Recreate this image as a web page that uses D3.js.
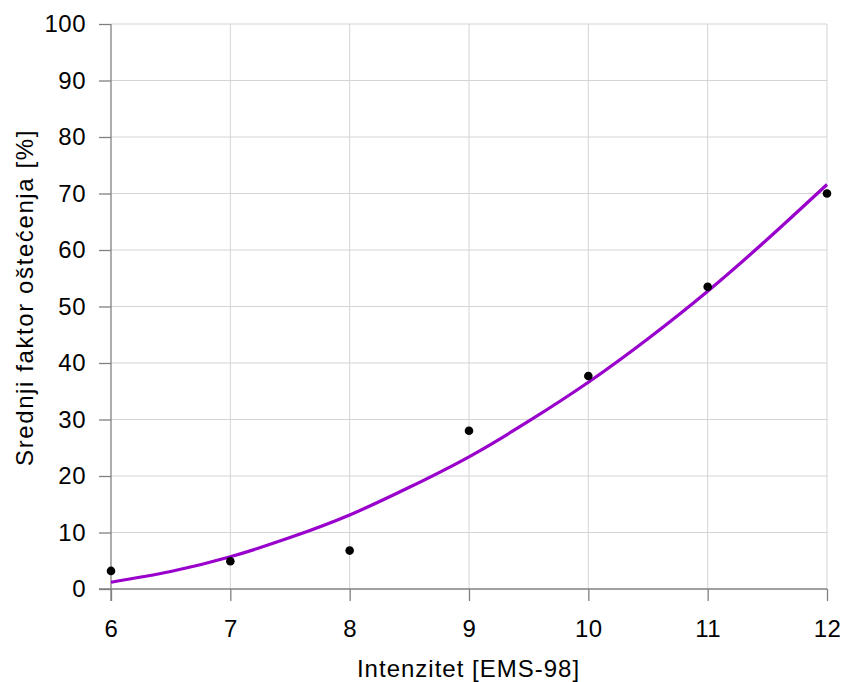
<!DOCTYPE html>
<html><head><meta charset="utf-8">
<script src="https://cdn.jsdelivr.net/npm/d3@7"></script>
<style>body{margin:0;background:#fff}svg{display:block}</style>
</head><body>
<svg id="c" width="843" height="682"></svg>
<script>
const pointX = [6, 7, 8, 9, 10, 11, 12];
const pointY = [3.2, 4.9, 6.8, 28.0, 37.7, 53.5, 70.0];
const curveX = [6, 6.5, 7, 7.5, 8, 8.5, 9, 9.5, 10, 10.5, 11, 11.5, 12];
const curveY = [1.2, 3.1, 5.7, 9.1, 13.1, 18.0, 23.4, 29.7, 36.6, 44.3, 52.7, 61.9, 71.6];
const xTicks = [6, 7, 8, 9, 10, 11, 12];
const yTicks = [0, 10, 20, 30, 40, 50, 60, 70, 80, 90, 100];
const xTitle = "Intenzitet [EMS-98]";
const yTitle = "Srednji faktor oštećenja [%]";

const svg = d3.select("#c");
const L = 111, R = 827, T = 24, B = 589;
const x = d3.scaleLinear().domain([6, 12]).range([L, R]);
const y = d3.scaleLinear().domain([0, 100]).range([B, T]);
const font = "'Liberation Sans', Arial, sans-serif";

// grid
svg.append("g").selectAll("line").data(xTicks.slice(1)).join("line")
  .attr("x1", d => x(d)).attr("x2", d => x(d)).attr("y1", T).attr("y2", B)
  .attr("stroke", "#d4d4d4").attr("stroke-width", 1);
svg.append("g").selectAll("line").data(yTicks.slice(1)).join("line")
  .attr("x1", L).attr("x2", R).attr("y1", d => y(d)).attr("y2", d => y(d))
  .attr("stroke", "#d4d4d4").attr("stroke-width", 1);

// axes
const yAxis = svg.append("g").attr("transform", `translate(${L},0)`)
  .call(d3.axisLeft(y).tickValues(yTicks).tickFormat(d3.format("d")).tickSize(12).tickPadding(13));
const xAxis = svg.append("g").attr("transform", `translate(0,${B})`)
  .call(d3.axisBottom(x).tickValues(xTicks).tickFormat(d3.format("d")).tickSize(12).tickPadding(19));
[xAxis, yAxis].forEach(a => {
  a.select(".domain").attr("stroke", "#808080").attr("stroke-width", 1.3);
  a.selectAll(".tick line").attr("stroke", "#808080").attr("stroke-width", 1.3);
  a.selectAll(".tick text").attr("fill", "#000").style("font-family", font).style("font-size", "24px")
    .style("letter-spacing", "0.5px");
});
yAxis.select(".domain").attr("d", `M0,${T}V${B + 12}`);
xAxis.select(".domain").attr("d", `M${L - 12},0H${R}`);

// curve
const line = d3.line().x(d => x(d[0])).y(d => y(d[1])).curve(d3.curveNatural);
svg.append("path").datum(curveX.map((v, i) => [v, curveY[i]]))
  .attr("d", line).attr("fill", "none").attr("stroke", "#9900cc").attr("stroke-width", 3.2);

// points
svg.append("g").selectAll("circle").data(pointX.map((v, i) => [v, pointY[i]])).join("circle")
  .attr("cx", d => x(d[0])).attr("cy", d => y(d[1])).attr("r", 4.3).attr("fill", "#000");

// titles
svg.append("text").attr("x", 468.5).attr("y", 677).attr("text-anchor", "middle")
  .style("font-family", font).style("font-size", "24px").style("letter-spacing", "1px").text(xTitle);
svg.append("text").attr("transform", `translate(33,297.5) rotate(-90)`).attr("text-anchor", "middle")
  .style("font-family", font).style("font-size", "24px").style("letter-spacing", "1.6px").text(yTitle);
</script>
</body></html>
